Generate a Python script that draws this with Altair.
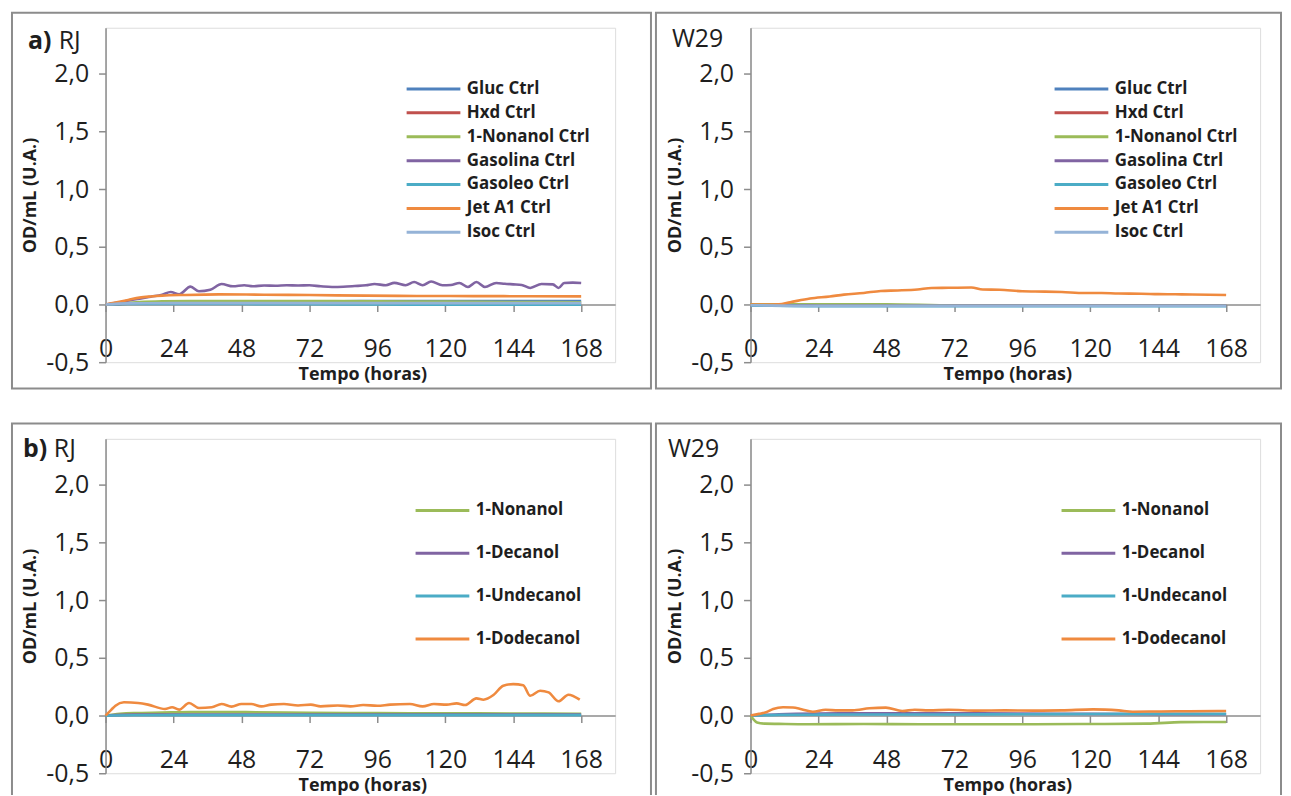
import altair as alt
import pandas as pd

FONT = "Open Sans"
AX = "#8c8c8c"
TXT = "#1e1e1e"
X_TICKS = [0, 24, 48, 72, 96, 120, 144, 168]
Y_TICKS = [-0.5, 0.0, 0.5, 1.0, 1.5, 2.0]

C_BLUE, C_RED, C_GREEN = "#4F81BD", "#C0504D", "#9BBB59"
C_PURPLE, C_AQUA, C_ORANGE, C_LBLUE = "#8064A2", "#4BACC6", "#EF8A3F", "#95B3D7"

# ---------- a) RJ ----------
a_rj_gluc_t = [0, 6, 12, 24, 48, 72, 80, 90, 110, 130, 150, 168]
a_rj_gluc_v = [0.0, 0.008, 0.012, 0.012, 0.014, 0.018, 0.025, 0.03, 0.03, 0.03, 0.03, 0.03]
a_rj_hxd_t = [0, 8, 24, 48, 72, 96, 120, 144, 168]
a_rj_hxd_v = [0.0, 0.008, 0.01, 0.01, 0.01, 0.008, 0.008, 0.008, 0.008]
a_rj_non_t = [0, 6, 12, 20, 30, 48, 72, 96, 120, 144, 168]
a_rj_non_v = [0.0, 0.012, 0.022, 0.028, 0.03, 0.03, 0.03, 0.028, 0.025, 0.022, 0.02]
a_rj_gas_t = [0, 4, 8, 12, 16, 20, 23, 26, 30, 33, 37, 41, 45, 49, 52, 56, 60, 64, 68, 72,
              76, 80, 84, 88, 92, 95, 99, 102, 106, 109, 112, 115, 119, 122, 125, 128, 131,
              134, 138, 141, 144, 147, 150, 154, 158, 160, 162, 165, 168]
a_rj_gas_v = [0.0, 0.015, 0.035, 0.05, 0.068, 0.085, 0.108, 0.088, 0.155, 0.115, 0.128, 0.178,
              0.158, 0.167, 0.158, 0.165, 0.163, 0.167, 0.165, 0.167, 0.158, 0.152, 0.154, 0.16,
              0.167, 0.178, 0.167, 0.188, 0.167, 0.195, 0.167, 0.2, 0.167, 0.17, 0.187, 0.152,
              0.195, 0.152, 0.187, 0.18, 0.175, 0.17, 0.144, 0.178, 0.175, 0.144, 0.187, 0.19, 0.187]
a_rj_gsl_t = [0, 8, 24, 48, 72, 96, 120, 144, 168]
a_rj_gsl_v = [0.0, 0.004, 0.005, 0.004, 0.002, 0.0, -0.002, -0.002, -0.002]
a_rj_jet_t = [0, 4, 8, 12, 16, 20, 28, 40, 56, 72, 92, 110, 130, 150, 168]
a_rj_jet_v = [0.0, 0.02, 0.04, 0.06, 0.07, 0.077, 0.083, 0.088, 0.085, 0.082, 0.077, 0.074, 0.073, 0.072, 0.071]
a_rj_iso_t = [0, 8, 24, 48, 72, 96, 120, 144, 168]
a_rj_iso_v = [0.0, 0.01, 0.012, 0.012, 0.012, 0.012, 0.012, 0.012, 0.012]

# ---------- a) W29 ----------
a_w_t = [0, 24, 48, 72, 96, 120, 144, 168]
a_w_gluc_v = [-0.004, -0.008, -0.008, -0.008, -0.008, -0.008, -0.008, -0.008]
a_w_hxd_v = [-0.004, -0.008, -0.008, -0.008, -0.008, -0.008, -0.008, -0.008]
a_w_non_v = [0.003, 0.003, 0.002, -0.008, -0.008, -0.008, -0.008, -0.008]
a_w_gas_v = [-0.005, -0.01, -0.01, -0.01, -0.01, -0.01, -0.01, -0.01]
a_w_gsl_v = [-0.007, -0.015, -0.015, -0.015, -0.015, -0.015, -0.015, -0.015]
a_w_iso_v = [-0.006, -0.012, -0.012, -0.012, -0.012, -0.012, -0.012, -0.012]
a_w_jet_t = [0, 5, 10, 14, 21, 28, 33, 40, 46, 52, 59, 64, 70, 78, 82, 88, 96, 104, 110,
             118, 124, 130, 138, 144, 150, 156, 162, 168]
a_w_jet_v = [0.0, 0.0, 0.002, 0.02, 0.052, 0.07, 0.086, 0.1, 0.118, 0.122, 0.13, 0.144, 0.145,
             0.147, 0.13, 0.128, 0.115, 0.112, 0.108, 0.1, 0.1, 0.095, 0.094, 0.09, 0.089,
             0.087, 0.085, 0.083]

# ---------- b) RJ ----------
b_rj_non_t = [0, 5, 10, 20, 30, 48, 72, 96, 120, 144, 168]
b_rj_non_v = [0.0, 0.015, 0.022, 0.026, 0.03, 0.03, 0.025, 0.022, 0.02, 0.018, 0.015]
b_rj_dec_t = [0, 10, 30, 60, 90, 120, 150, 168]
b_rj_dec_v = [0.0, 0.008, 0.01, 0.01, 0.01, 0.01, 0.01, 0.01]
b_rj_und_t = [0, 10, 30, 60, 90, 120, 150, 168]
b_rj_und_v = [0.0, 0.003, 0.004, 0.004, 0.004, 0.004, 0.004, 0.004]
b_rj_dod_t = [0, 2, 3.5, 6.5, 11.5, 15, 21, 23.5, 26, 29.5, 33, 37.5, 41, 44.5, 48, 51.5, 55,
              58.5, 63, 68, 72.5, 76, 82, 86.5, 91, 96, 100.5, 107.5, 112, 116, 120.5, 124,
              127, 131, 133.5, 137, 140.5, 144, 147.5, 150, 153.5, 156.5, 160, 163.5, 167.5]
b_rj_dod_v = [0.0, 0.05, 0.086, 0.115, 0.109, 0.095, 0.057, 0.072, 0.052, 0.109, 0.066, 0.072,
              0.1, 0.078, 0.1, 0.1, 0.08, 0.095, 0.1, 0.088, 0.095, 0.08, 0.088, 0.08, 0.092,
              0.085, 0.095, 0.1, 0.08, 0.1, 0.095, 0.106, 0.092, 0.149, 0.138, 0.178, 0.259,
              0.273, 0.264, 0.172, 0.216, 0.201, 0.124, 0.181, 0.138]

# ---------- b) W29 ----------
b_w_non_t = [0, 2.3, 5, 10, 20, 40, 60, 80, 100, 120, 140, 152, 160, 168]
b_w_non_v = [0.0, -0.06, -0.07, -0.072, -0.075, -0.073, -0.075, -0.075, -0.075, -0.073,
             -0.07, -0.057, -0.055, -0.055]
b_w_dec_t = [0, 10, 24, 48, 72, 96, 120, 144, 168]
b_w_dec_v = [0.0, 0.012, 0.018, 0.02, 0.02, 0.018, 0.015, 0.013, 0.012]
b_w_und_t = [0, 10, 24, 48, 72, 96, 120, 144, 168]
b_w_und_v = [0.0, 0.006, 0.008, 0.01, 0.01, 0.012, 0.014, 0.015, 0.015]
b_w_dod_t = [0, 3, 5.5, 8, 11.5, 15, 18, 22, 26.5, 31, 36, 42, 47.8, 53.6, 58, 63, 70, 80, 90,
             100, 110, 121, 130, 135, 145, 155, 168]
b_w_dod_v = [0.0, 0.015, 0.029, 0.057, 0.072, 0.07, 0.055, 0.034, 0.05, 0.045, 0.045, 0.063,
             0.069, 0.04, 0.05, 0.045, 0.05, 0.043, 0.045, 0.043, 0.045, 0.054, 0.045, 0.034,
             0.036, 0.038, 0.04]

CTRL_NAMES = ["Gluc Ctrl", "Hxd Ctrl", "1-Nonanol Ctrl", "Gasolina Ctrl", "Gasoleo Ctrl",
              "Jet A1 Ctrl", "Isoc Ctrl"]
CTRL_COLORS = [C_BLUE, C_RED, C_GREEN, C_PURPLE, C_AQUA, C_ORANGE, C_LBLUE]
ALC_NAMES = ["1-Nonanol", "1-Decanol", "1-Undecanol", "1-Dodecanol"]
ALC_COLORS = [C_GREEN, C_PURPLE, C_AQUA, C_ORANGE]

W, H = 512, 336
Y_DOM = [-0.5, 2.4]
ZERO_OFF = -H * (0.0 - Y_DOM[0]) / (Y_DOM[1] - Y_DOM[0])

one = pd.DataFrame({"k": [0]})


def frame(names, ts, vs):
    rows = []
    for i, (n, t, v) in enumerate(zip(names, ts, vs)):
        for a, b in zip(t, v):
            rows.append({"t": a, "v": b, "s": n, "o": i})
    return pd.DataFrame(rows)


def panel(df, names, colors, leg_x, leg_y, row_pad, texts, border):
    x_axis = alt.Axis(values=X_TICKS, grid=False, offset=ZERO_OFF, tickSize=7, tickWidth=1.5,
                      tickColor=AX, domainColor=AX, domainWidth=1.5, labelFont=FONT,
                      labelFontSize=25, labelColor=TXT, labelPadding=25, labelFlush=False,
                      labelOverlap=False, format="d",
                      title="Tempo (horas)", titleFont=FONT, titleFontSize=18,
                      titleFontWeight="bold", titleColor=TXT, titleX=258, titleY=70,
                      titleBaseline="middle", titleAlign="center")
    y_axis = alt.Axis(values=Y_TICKS, grid=False, tickSize=7, tickWidth=1.5, tickColor=AX,
                      domainColor=AX, domainWidth=1.5, labelFont=FONT, labelFontSize=25,
                      labelColor=TXT, labelPadding=10, labelOverlap=False,
                      labelExpr="datum.value < 0 ? '-' + replace(format(-datum.value, '.1f'), '.', ',') : replace(format(datum.value, '.1f'), '.', ',')",
                      title="OD/mL (U.A.)", titleFont=FONT, titleFontSize=18,
                      titleFontWeight="bold", titleColor=TXT, titleX=-75, titleY=H / 2,
                      titleAngle=270, titleBaseline="middle", titleAlign="center")
    legend = alt.Legend(orient="none", legendX=leg_x, legendY=leg_y, title=None, padding=0,
                        symbolType="M-4,0H4", symbolSize=182.25, symbolStrokeWidth=3,
                        labelFont=FONT, labelFontSize=17, labelFontWeight="bold",
                        labelColor=TXT, labelOffset=25, rowPadding=row_pad)
    lines = alt.Chart(df).mark_line(interpolate="monotone", strokeWidth=2.6).encode(
        x=alt.X("t:Q", scale=alt.Scale(domain=[0, 180], nice=False, zero=False), axis=x_axis),
        y=alt.Y("v:Q", scale=alt.Scale(domain=Y_DOM, nice=False, zero=False), axis=y_axis),
        color=alt.Color("s:N", scale=alt.Scale(domain=names, range=colors), legend=legend),
        order=alt.Order("t:Q"),
    )
    bx, bx2, by, by2 = border
    frame_rect = alt.Chart(one).mark_rect(filled=False, color="#8c8c8c", strokeWidth=2).encode(
        x=alt.value(bx), x2=alt.value(bx2), y=alt.value(by), y2=alt.value(by2))
    layers = [frame_rect, lines]
    for txt, tx, ty, weight in texts:
        layers.append(alt.Chart(one).mark_text(text=txt, font=FONT, fontSize=25,
                                               fontWeight=weight, color=TXT, align="left",
                                               baseline="middle").encode(
            x=alt.value(tx), y=alt.value(ty)))
    return alt.layer(*layers).properties(width=W, height=H)


df_a_rj = frame(CTRL_NAMES,
                [a_rj_gluc_t, a_rj_hxd_t, a_rj_non_t, a_rj_gas_t, a_rj_gsl_t, a_rj_jet_t, a_rj_iso_t],
                [a_rj_gluc_v, a_rj_hxd_v, a_rj_non_v, a_rj_gas_v, a_rj_gsl_v, a_rj_jet_v, a_rj_iso_v])
df_a_w = frame(CTRL_NAMES,
               [a_w_t, a_w_t, a_w_t, a_w_t, a_w_t, a_w_jet_t, a_w_t],
               [a_w_gluc_v, a_w_hxd_v, a_w_non_v, a_w_gas_v, a_w_gsl_v, a_w_jet_v, a_w_iso_v])
df_b_rj = frame(ALC_NAMES, [b_rj_non_t, b_rj_dec_t, b_rj_und_t, b_rj_dod_t],
                [b_rj_non_v, b_rj_dec_v, b_rj_und_v, b_rj_dod_v])
df_b_w = frame(ALC_NAMES, [b_w_non_t, b_w_dec_t, b_w_und_t, b_w_dod_t],
               [b_w_non_v, b_w_dec_v, b_w_und_v, b_w_dod_v])

p1 = panel(df_a_rj, CTRL_NAMES, CTRL_COLORS, 321, 53, 6,
           [("a)", -78, 13, "bold"), ("RJ", -47, 13, "normal")], (-94, 548, -15, 362.5))
p2 = panel(df_a_w, CTRL_NAMES, CTRL_COLORS, 324, 53, 6,
           [("W29", -79, 11, "normal")], (-95, 533, -15, 362.5))
p3 = panel(df_b_rj, ALC_NAMES, ALC_COLORS, 330, 63.5, 25,
           [("b)", -83, 10, "bold"), ("RJ", -52, 10, "normal")], (-94, 548, -15.5, 362))
p4 = panel(df_b_w, ALC_NAMES, ALC_COLORS, 331, 63.5, 25,
           [("W29", -83, 10, "normal")], (-95, 533, -15.5, 362))

row1 = alt.hconcat(p1, p2, spacing=1).resolve_scale(color="independent")
row2 = alt.hconcat(p3, p4, spacing=1).resolve_scale(color="independent")
chart = alt.vconcat(row1, row2, spacing=32).resolve_scale(color="independent").properties(
    padding={"left": 2, "top": 1, "right": 0, "bottom": -8}
).configure_view(stroke="transparent").configure(background="white")

chart.save("out.html", embed_options={"renderer": "svg", "actions": False})
